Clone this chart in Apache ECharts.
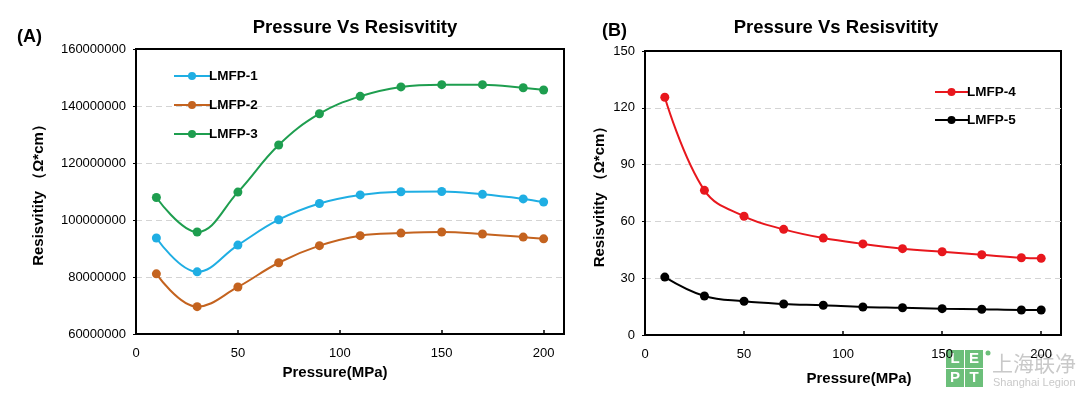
<!DOCTYPE html>
<html><head><meta charset="utf-8">
<script src="https://cdn.jsdelivr.net/npm/echarts@6/dist/echarts.min.js"></script>
<style>html,body{margin:0;padding:0;background:#fff}#c{width:1080px;height:395px}</style>
</head><body><div id="c"></div>
<script>
const pressure = [10, 30, 50, 70, 90, 110, 130, 150, 170, 190, 200];
const lmfp1 = [93.7e6, 81.8e6, 91.2e6, 100.1e6, 105.8e6, 108.8e6, 109.9e6, 110.0e6, 109.0e6, 107.4e6, 106.3e6];
const lmfp2 = [81.1e6, 69.6e6, 76.5e6, 85.0e6, 91.0e6, 94.5e6, 95.4e6, 95.8e6, 95.1e6, 94.0e6, 93.4e6];
const lmfp3 = [107.9e6, 95.8e6, 109.8e6, 126.3e6, 137.3e6, 143.4e6, 146.7e6, 147.5e6, 147.5e6, 146.4e6, 145.6e6];
const lmfp4 = [125.6, 76.4, 62.7, 55.8, 51.2, 48.1, 45.6, 44.0, 42.4, 40.8, 40.5];
const lmfp5 = [30.6, 20.6, 17.8, 16.4, 15.7, 14.8, 14.4, 13.9, 13.6, 13.2, 13.2];
const seriesNames = ['LMFP-1', 'LMFP-2', 'LMFP-3', 'LMFP-4', 'LMFP-5'];
const colors = ['#1FAEE3', '#C4631F', '#1E9E4F', '#E8171D', '#000000'];
const titleText = 'Pressure Vs Resisvitity';
const xName = 'Pressure(MPa)';
const yName = 'Resisvitity （Ω*cm）';

const FONT = 'Liberation Sans';
const pair = arr => pressure.map((p, i) => [p, arr[i]]);

function xAxis(gi, gap, pad) {
  return {
    type: 'value', gridIndex: gi, min: 0, max: 210, interval: 50,
    name: xName, nameLocation: 'middle', nameGap: gap,
    nameTextStyle: {fontFamily: FONT, fontWeight: 'bold', fontSize: 15, color: '#000', padding: pad},
    axisLine: {lineStyle: {color: '#000', width: 2}},
    axisTick: {inside: true, length: 4, lineStyle: {color: '#000', width: 1.5}},
    axisLabel: {fontFamily: FONT, fontSize: 13, color: '#000', margin: 13,
      formatter: v => (v % 50 === 0 ? String(v) : '')},
    splitLine: {show: false}
  };
}
function yAxis(gi, min, max, interval, gap) {
  return {
    type: 'value', gridIndex: gi, min, max, interval,
    name: yName, nameLocation: 'middle', nameGap: gap,
    nameTextStyle: {fontFamily: FONT, fontWeight: 'bold', fontSize: 15, color: '#000'},
    axisLine: {show: true, lineStyle: {color: '#000', width: 2}},
    axisTick: {show: true, length: 3, lineStyle: {color: '#000'}},
    axisLabel: {fontFamily: FONT, fontSize: 13, color: '#000', margin: 10, formatter: v => String(v)},
    splitLine: {show: true, showMinLine: false, showMaxLine: false,
      lineStyle: {color: '#d4d4d4', type: [6, 4], width: 1}}
  };
}
function line(name, data, xi, color) {
  return {
    name, type: 'line', xAxisIndex: xi, yAxisIndex: xi, data: pair(data),
    smooth: 0.4, symbol: 'circle', symbolSize: 9,
    itemStyle: {color}, lineStyle: {color, width: 2}
  };
}

const chart = echarts.init(document.getElementById('c'));
chart.setOption({
  animation: false,
  backgroundColor: '#fff',
  title: [
    {text: titleText, left: 350, top: 13, textAlign: 'center',
      textStyle: {fontFamily: FONT, fontWeight: 'bold', fontSize: 18.5, color: '#000'}},
    {text: titleText, left: 831, top: 13, textAlign: 'center',
      textStyle: {fontFamily: FONT, fontWeight: 'bold', fontSize: 18.5, color: '#000'}},
    {text: '(A)', left: 12, top: 23, textStyle: {fontFamily: FONT, fontWeight: 'bold', fontSize: 18, color: '#000'}},
    {text: '(B)', left: 597, top: 17, textStyle: {fontFamily: FONT, fontWeight: 'bold', fontSize: 18, color: '#000'}}
  ],
  grid: [
    {left: 136, top: 49, width: 428, height: 285, show: true, borderColor: '#000', borderWidth: 2, backgroundColor: 'transparent'},
    {left: 645, top: 51, width: 416, height: 284, show: true, borderColor: '#000', borderWidth: 2, backgroundColor: 'transparent'}
  ],
  xAxis: [xAxis(0, 30, [0, 30, 0, 0]), xAxis(1, 36, [0, 0, 0, 12])],
  yAxis: [yAxis(0, 60000000, 160000000, 20000000, 90), yAxis(1, 0, 150, 30, 38)],
  legend: [
    {data: seriesNames.slice(0, 3), orient: 'vertical', left: 168, top: 64, itemWidth: 36, itemHeight: 10, itemGap: 15,
      textStyle: {fontFamily: FONT, fontWeight: 'bold', fontSize: 13.5, color: '#000', padding: [0, 0, 0, -6]}},
    {data: seriesNames.slice(3), orient: 'vertical', left: 929, top: 80, itemWidth: 33, itemHeight: 10, itemGap: 14,
      textStyle: {fontFamily: FONT, fontWeight: 'bold', fontSize: 13.5, color: '#000', padding: [0, 0, 0, -6]}}
  ],
  series: [
    line(seriesNames[0], lmfp1, 0, colors[0]),
    line(seriesNames[1], lmfp2, 0, colors[1]),
    line(seriesNames[2], lmfp3, 0, colors[2]),
    line(seriesNames[3], lmfp4, 1, colors[3]),
    line(seriesNames[4], lmfp5, 1, colors[4])
  ],
  graphic: [
    {type: 'group', left: 946, top: 350, z: 100, children: [
      {type: 'rect', shape: {x: 0, y: 0, width: 18, height: 18}, style: {fill: '#6cbf7a'}},
      {type: 'rect', shape: {x: 19, y: 0, width: 18, height: 18}, style: {fill: '#6cbf7a'}},
      {type: 'rect', shape: {x: 0, y: 19, width: 18, height: 18}, style: {fill: '#6cbf7a'}},
      {type: 'rect', shape: {x: 19, y: 19, width: 18, height: 18}, style: {fill: '#6cbf7a'}},
      {type: 'text', x: 9, y: 9, style: {text: 'L', fill: '#fff', font: 'bold 15px "Liberation Sans"', align: 'center', verticalAlign: 'middle'}},
      {type: 'text', x: 28, y: 9, style: {text: 'E', fill: '#fff', font: 'bold 15px "Liberation Sans"', align: 'center', verticalAlign: 'middle'}},
      {type: 'text', x: 9, y: 28, style: {text: 'P', fill: '#fff', font: 'bold 15px "Liberation Sans"', align: 'center', verticalAlign: 'middle'}},
      {type: 'text', x: 28, y: 28, style: {text: 'T', fill: '#fff', font: 'bold 15px "Liberation Sans"', align: 'center', verticalAlign: 'middle'}},
      {type: 'circle', shape: {cx: 42, cy: 3, r: 2.5}, style: {fill: '#6cbf7a'}},
      {type: 'text', x: 46, y: 3, style: {text: '上海联净', fill: '#c9c9c9', font: '21px "Noto Sans CJK SC"'}},
      {type: 'text', x: 47, y: 27, style: {text: 'Shanghai Legion', fill: '#c9c9c9', font: '11px "Liberation Sans"'}}
    ]}
  ]
});
</script></body></html>
